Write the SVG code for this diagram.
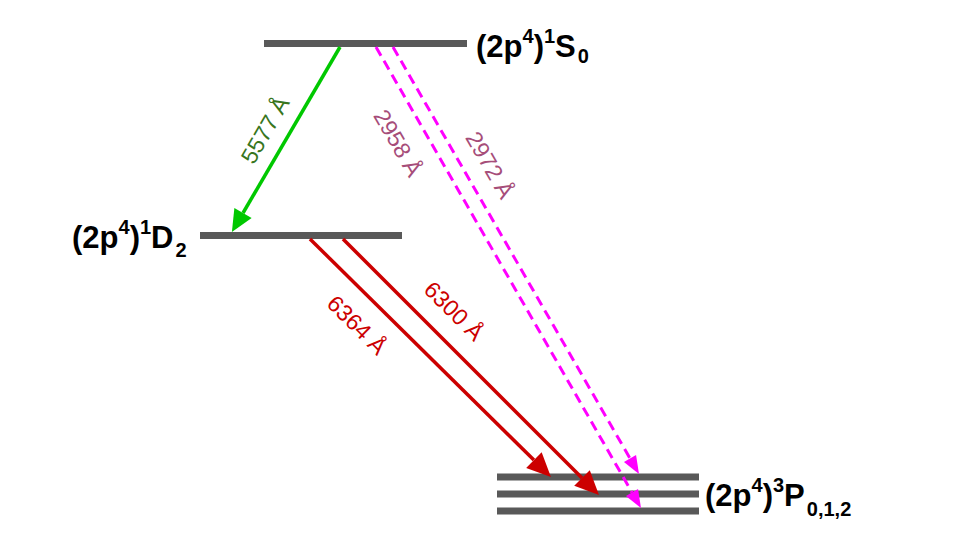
<svg xmlns="http://www.w3.org/2000/svg" width="960" height="540" viewBox="0 0 960 540">
<defs>
<style>
.level{stroke:#595959;stroke-width:7;fill:none}
.lbl{font-family:"Liberation Sans",Arial,sans-serif;font-weight:bold;font-size:31px;fill:#000}
.sm{font-size:20px}
.wl{font-family:"Liberation Sans",Arial,sans-serif;font-size:23px;text-anchor:middle}
.green{stroke:#00c800;stroke-width:3.5;fill:none}
.red{stroke:#cc0000;stroke-width:3.5;fill:none}
.mag{stroke:#ff00ff;stroke-width:3;fill:none;stroke-dasharray:10 6}
</style>
<marker id="ahG" markerUnits="userSpaceOnUse" viewBox="0 0 22 20" markerWidth="22" markerHeight="20" refX="0" refY="10" orient="auto" overflow="visible"><path d="M0,0 L22,10 L0,20 z" fill="#00c800"/></marker>
<marker id="ahR" markerUnits="userSpaceOnUse" viewBox="0 0 24 22" markerWidth="24" markerHeight="22" refX="0" refY="11" orient="auto" overflow="visible"><path d="M0,0 L24,11 L0,22 z" fill="#cc0000"/></marker>
<marker id="ahM" markerUnits="userSpaceOnUse" viewBox="0 0 18 14" markerWidth="18" markerHeight="14" refX="0" refY="7" orient="auto" overflow="visible"><path d="M0,0 L18,7 L0,14 z" fill="#ff00ff"/></marker>
</defs>
<rect width="960" height="540" fill="#fff"/>

<g id="level-1S0">
<line class="level" x1="264" y1="43.5" x2="467" y2="43.5"/>
<text class="lbl" x="476" y="57">(2p<tspan class="sm" dy="-14">4</tspan><tspan dy="14">)</tspan><tspan class="sm" dy="-14">1</tspan><tspan dy="14">S</tspan><tspan class="sm" dx="2" dy="6">0</tspan></text>
</g>

<g id="level-1D2">
<line class="level" x1="200" y1="235.5" x2="402" y2="235.5"/>
<text class="lbl" x="72" y="248">(2p<tspan class="sm" dy="-14">4</tspan><tspan dy="14">)</tspan><tspan class="sm" dy="-14">1</tspan><tspan dy="14">D</tspan><tspan class="sm" dx="2" dy="9">2</tspan></text>
</g>

<g id="level-3P">
<line class="level" x1="497" y1="477" x2="699" y2="477"/>
<line class="level" x1="497" y1="494" x2="699" y2="494"/>
<line class="level" x1="497" y1="511" x2="699" y2="511"/>
<text class="lbl" x="705" y="506">(2p<tspan class="sm" dy="-14">4</tspan><tspan dy="14">)</tspan><tspan class="sm" dy="-14">3</tspan><tspan dy="14">P</tspan><tspan class="sm" dx="2" dy="10">0,1,2</tspan></text>
</g>

<g id="connectors">
<line class="green" x1="340" y1="47" x2="243" y2="213" marker-end="url(#ahG)"/>
<line class="red" x1="310" y1="239" x2="533.9" y2="460.1" marker-end="url(#ahR)"/>
<line class="red" x1="343" y1="239" x2="582" y2="478" marker-end="url(#ahR)"/>
<line class="mag" x1="376" y1="47" x2="632" y2="492.4" marker-end="url(#ahM)"/>
<line class="mag" x1="393" y1="47" x2="630" y2="458.4" marker-end="url(#ahM)"/>
<text class="wl" fill="#38761d" transform="translate(265,130) rotate(-60)" y="8">5577 Å</text>
<text class="wl" fill="#a64d79" transform="translate(398,143) rotate(60)" y="8">2958 Å</text>
<text class="wl" fill="#a64d79" transform="translate(490,165) rotate(60)" y="8">2972 Å</text>
<text class="wl" fill="#cc0000" transform="translate(357,325) rotate(45)" y="8">6364 Å</text>
<text class="wl" fill="#cc0000" transform="translate(454,311) rotate(45)" y="8">6300 Å</text>
</g>
</svg>
